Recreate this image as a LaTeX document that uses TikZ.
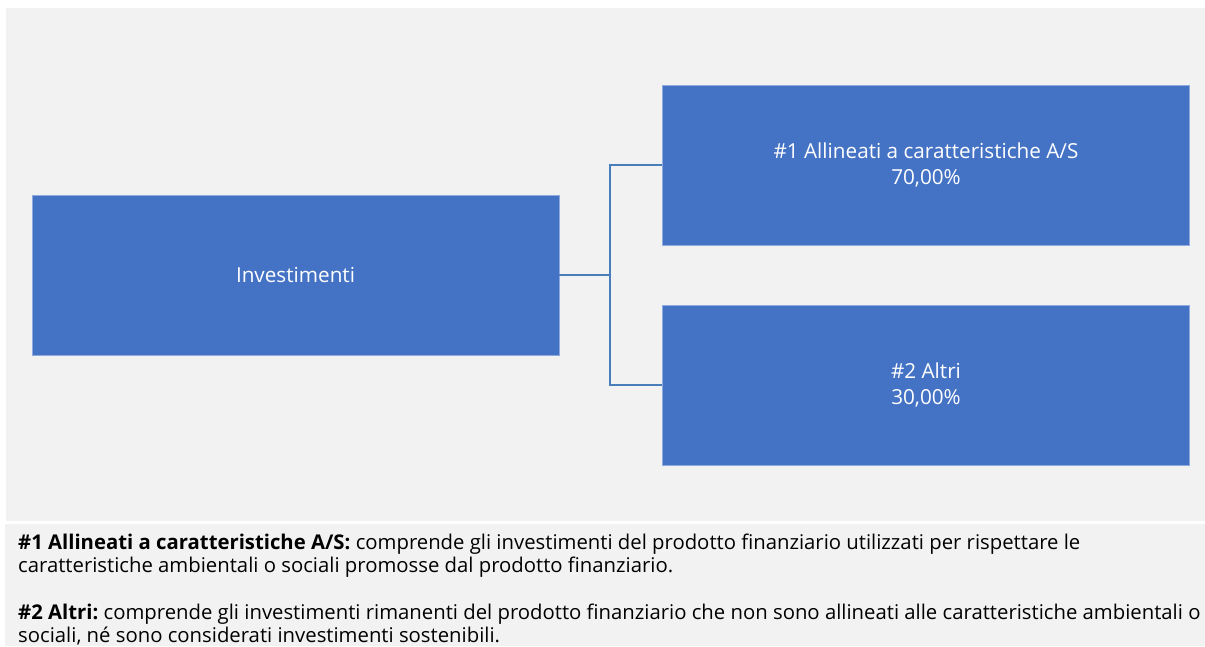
\documentclass[tikz,border=0pt]{standalone}
\usepackage{fontspec}
\setmainfont{Open Sans}
\frenchspacing
\definecolor{bg}{HTML}{F2F2F2}
\definecolor{boxblue}{HTML}{4472C4}
\definecolor{boxedge}{HTML}{8FAADC}
\definecolor{linkblue}{HTML}{4A7EBB}
\begin{document}
\begin{tikzpicture}[x=1pt,y=-1pt,
  blockbox/.style={fill=boxblue,draw=boxedge,line width=0.8pt,minimum width=527pt,minimum height=160pt,inner sep=0pt,text=white,font=\fontsize{20.7}{26.5}\selectfont,align=center},
  link/.style={draw=linkblue,line width=2pt},
  note/.style={anchor=base west,inner sep=0pt,font=\fontsize{20.3}{23}\selectfont\frenchspacing,text=black}]
\useasboundingbox (0,0) rectangle (1205,646);
\fill[white] (0,0) rectangle (1205,646);
\fill[bg] (6,8) rectangle (1205,520.7);
\fill[bg] (5,523.5) rectangle (1205,646);
\node[blockbox] (inv) at (295.5,275) {Investimenti};
\node[blockbox] (a1) at (926,165) {\#1 Allineati a caratteristiche A/S\\70,00\%};
\node[blockbox] (a2) at (926,385) {\#2 Altri\\30,00\%};
\coordinate (j) at (610,275);
\draw[link] (inv.east) -- (j);
\draw[link] (a1.west) -| (j) |- (a2.west);
\node[note] (n1) at (18,549) {\textbf{\#1 Allineati a caratteristiche A/S:} comprende gli investimenti del prodotto finanziario utilizzati per rispettare le};
\node[note] (n2) at (18,572.5) {caratteristiche ambientali o sociali promosse dal prodotto finanziario.};
\node[note] (n3) at (18,619) {\textbf{\#2 Altri:} comprende gli investimenti rimanenti del prodotto finanziario che non sono allineati alle caratteristiche ambientali o};
\node[note] (n4) at (18,642) {sociali, né sono considerati investimenti sostenibili.};
\end{tikzpicture}
\end{document}
